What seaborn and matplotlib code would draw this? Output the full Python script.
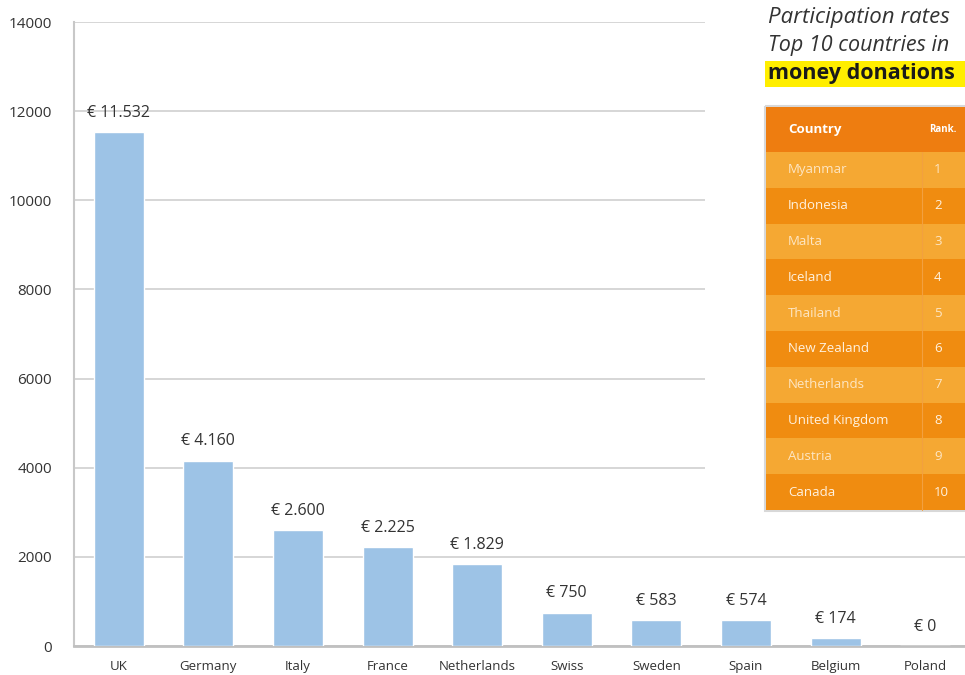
import numpy as np
import pandas as pd
import matplotlib.pyplot as plt
import seaborn as sns
from matplotlib.patches import Rectangle

# donations per country (euro)
countries = ['UK', 'Germany', 'Italy', 'France', 'Netherlands', 'Swiss',
             'Sweden', 'Spain', 'Belgium', 'Poland']
amounts = [11532, 4160, 2600, 2225, 1829, 750, 583, 574, 174, 0]
amount_labels = ['€ 11.532', '€ 4.160', '€ 2.600', '€ 2.225', '€ 1.829',
                 '€ 750', '€ 583', '€ 574', '€ 174', '€ 0']

# inset table
top_countries = ['Myanmar', 'Indonesia', 'Malta', 'Iceland', 'Thailand',
                 'New Zealand', 'Netherlands', 'United Kingdom', 'Austria', 'Canada']
top_ranks = ['1', '2', '3', '4', '5', '6', '7', '8', '9', '10']

df = pd.DataFrame({'country': countries, 'amount': amounts})

sns.set_style('white')
plt.rcParams['font.family'] = ['Open Sans', 'DejaVu Sans']

W, H = 965, 675
fig = plt.figure(figsize=(W / 100, H / 100), dpi=100)
ax = fig.add_axes([74 / W, 29 / H, 896 / W, 624 / H])

sns.barplot(data=df, x='country', y='amount', color='#9dc3e6', width=0.56,
            saturation=1, ax=ax, zorder=3)
ax.set_xlim(-0.5, 9.5)
ax.set_ylim(0, 14000)
ax.set_yticks(range(0, 14001, 2000))
ax.yaxis.grid(True, color='#d0d0d0', linewidth=1.2, zorder=0)
ax.set_xlabel('')
ax.set_ylabel('')
for s in ['top', 'right']:
    ax.spines[s].set_visible(False)
ax.spines['left'].set_color('#c8c8c8')
ax.spines['left'].set_linewidth(1.5)
ax.spines['bottom'].set_color('#c0c0c0')
ax.spines['bottom'].set_linewidth(2)
ax.tick_params(axis='both', length=0, colors='#333333')
ax.tick_params(axis='x', pad=10, labelsize=9.5)
ax.tick_params(axis='y', pad=16, labelsize=11)

for i, (v, lab) in enumerate(zip(amounts, amount_labels)):
    ax.text(i, v + 250, lab, ha='center', va='bottom', fontsize=11.5, color='#333333')

# inset panel
ins = fig.add_axes([705 / W, 155 / H, 265 / W, 520 / H])
ins.set_xlim(705, 970)
ins.set_ylim(520, 0)
ins.axis('off')
ins.add_patch(Rectangle((705, 0), 265, 518, facecolor='white', edgecolor='none'))

ins.text(768, 17, 'Participation rates', fontsize=16, style='italic',
         color='#333333', va='center', ha='left')
ins.text(768, 45, 'Top 10 countries in', fontsize=15.5, style='italic',
         color='#333333', va='center', ha='left')
ins.add_patch(Rectangle((765, 61), 205, 26, facecolor='#ffee00', edgecolor='none'))
ins.text(768, 73, 'money donations', fontsize=15.5, fontweight='bold',
         color='#1a1a1a', va='center', ha='left')

x0, xsplit, x1 = 766, 922, 975
head_top, head_h, row_h = 107, 45, 35.8
ins.add_patch(Rectangle((x0 - 1, head_top - 1), x1 - x0, 2 + head_h + row_h * len(top_countries),
                        facecolor='none', edgecolor='#d8d8d8', linewidth=1.5))
ins.add_patch(Rectangle((x0, head_top), x1 - x0, head_h, facecolor='#ee7d10', edgecolor='none'))
ins.text(x0 + 22, head_top + head_h / 2, 'Country', fontsize=9.5, fontweight='bold',
         color='white', va='center')
ins.text(xsplit + 7, head_top + head_h / 2, 'Rank.', fontsize=7, fontweight='bold',
         color='white', va='center')
for i, (c, r) in enumerate(zip(top_countries, top_ranks)):
    y = head_top + head_h + i * row_h
    col = '#f5a833' if i % 2 == 0 else '#f08c10'
    ins.add_patch(Rectangle((x0, y), x1 - x0, row_h, facecolor=col, edgecolor='none'))
    ins.plot([xsplit, xsplit], [y, y + row_h], color='#f2a040', linewidth=0.8)
    tc = '#fde6c4' if i % 2 == 0 else '#fff2e0'
    ins.text(x0 + 22, y + row_h / 2, c, fontsize=9.5, color=tc, va='center')
    ins.text(xsplit + 12, y + row_h / 2, r, fontsize=9.5, color=tc, va='center')

fig.savefig('out.png', dpi=100)
